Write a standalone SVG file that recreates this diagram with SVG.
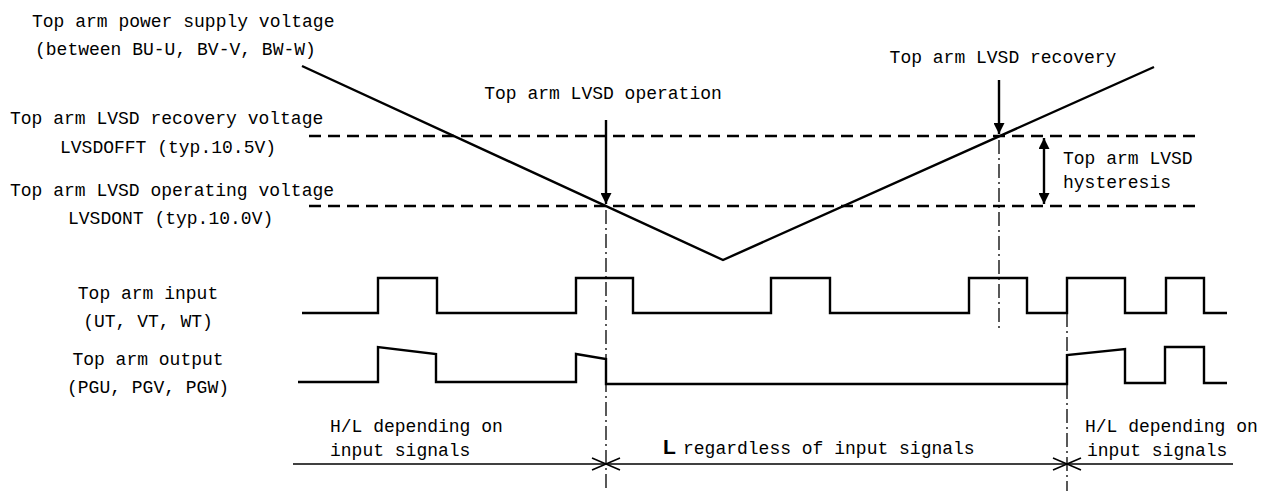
<svg xmlns="http://www.w3.org/2000/svg" width="1261" height="491" viewBox="0 0 1261 491">
<defs>
<style>
.t{font-family:"Liberation Mono","DejaVu Sans Mono",monospace;font-size:18px;fill:#000}
.s{fill:none;stroke:#000;stroke-width:2.4;stroke-linejoin:miter;stroke-linecap:butt}
.d{fill:none;stroke:#000;stroke-width:2.4;stroke-dasharray:12 7}
.c{fill:none;stroke:#000;stroke-width:1.3;stroke-dasharray:14 4 2 4}
.a{fill:none;stroke:#000;stroke-width:1.6}
</style>
<marker id="ah" viewBox="0 0 10 10" refX="10" refY="5" markerWidth="14" markerHeight="11" markerUnits="userSpaceOnUse" orient="auto">
<path d="M0,0 L10,5 L0,10 Z" fill="#000"/>
</marker>
<marker id="ahs" viewBox="0 0 10 10" refX="0" refY="5" markerWidth="14" markerHeight="11" markerUnits="userSpaceOnUse" orient="auto">
<path d="M10,0 L0,5 L10,10 Z" fill="#000"/>
</marker>
</defs>
<rect width="1261" height="491" fill="#fff"/>

<g id="labels-left">
<text class="t" x="32" y="27">Top arm power supply voltage</text>
<text class="t" x="35" y="55">(between BU-U, BV-V, BW-W)</text>
<text class="t" x="10" y="124">Top arm LVSD recovery voltage</text>
<text class="t" x="60" y="153">LVSDOFFT (typ.10.5V)</text>
<text class="t" x="10" y="196">Top arm LVSD operating voltage</text>
<text class="t" x="68" y="224">LVSDONT (typ.10.0V)</text>
<text class="t" x="148" y="299" text-anchor="middle">Top arm input</text>
<text class="t" x="148" y="327" text-anchor="middle">(UT, VT, WT)</text>
<text class="t" x="148" y="365" text-anchor="middle">Top arm output</text>
<text class="t" x="148" y="393" text-anchor="middle">(PGU, PGV, PGW)</text>
</g>

<g id="threshold-lines">
<line class="d" x1="309" y1="136" x2="1202" y2="136"/>
<line class="d" x1="309" y1="206" x2="1202" y2="206"/>
</g>

<g id="supply-voltage">
<polyline class="s" points="302,66 723,260 1154,67"/>
</g>

<g id="lvsd-operation">
<text class="t" x="603" y="99" text-anchor="middle">Top arm LVSD operation</text>
</g>
<g id="lvsd-recovery">
<text class="t" x="1003" y="63" text-anchor="middle">Top arm LVSD recovery</text>
</g>
<g id="lvsd-hysteresis">
<text class="t" x="1063" y="164">Top arm LVSD</text>
<text class="t" x="1063" y="188">hysteresis</text>
</g>

<g id="input-signal">
<polyline class="s" points="302,313 378,313 378,278 437,278 437,313 576,313 576,278 633,278 633,313 771,313 771,278 830,278 830,313 969,313 969,278 1027,278 1027,313 1067,313 1067,278 1125,278 1125,313 1166,313 1166,278 1204,278 1204,313 1227,313"/>
</g>

<g id="output-signal">
<polyline class="s" points="298,382 378,382 378,347 436,354 436,382 576,382 576,354 606,359 606,384 1067,384 1067,355 1125,349 1125,383 1165,383 1165,347 1204,347 1204,383 1227,383"/>
</g>

<g id="bottom-labels">
<text class="t" x="330" y="432">H/L depending on</text>
<text class="t" x="330" y="456">input signals</text>
<text x="663" y="454" style="font-family:'Liberation Sans',Arial,sans-serif;font-size:21px;font-weight:bold">L</text>
<text class="t" x="683" y="454">regardless of input signals</text>
<text class="t" x="1085" y="432">H/L depending on</text>
<text class="t" x="1087" y="456">input signals</text>
</g>

<g id="connectors">
<line class="s" x1="606" y1="120" x2="606" y2="204" marker-end="url(#ah)"/>
<line class="s" x1="999" y1="80" x2="999" y2="134" marker-end="url(#ah)"/>
<line class="s" x1="1044" y1="138" x2="1044" y2="204" marker-start="url(#ahs)" marker-end="url(#ah)"/>
<line class="c" x1="606" y1="210" x2="606" y2="491"/>
<line class="c" x1="999" y1="140" x2="999" y2="330"/>
<line class="c" x1="1067" y1="313" x2="1067" y2="491"/>
<line class="a" x1="293" y1="464" x2="1233" y2="464"/>
<path class="a" d="M592,458 L606,464 L592,470 M620,458 L606,464 L620,470"/>
<path class="a" d="M1053,458 L1067,464 L1053,470 M1081,458 L1067,464 L1081,470"/>
</g>
</svg>
